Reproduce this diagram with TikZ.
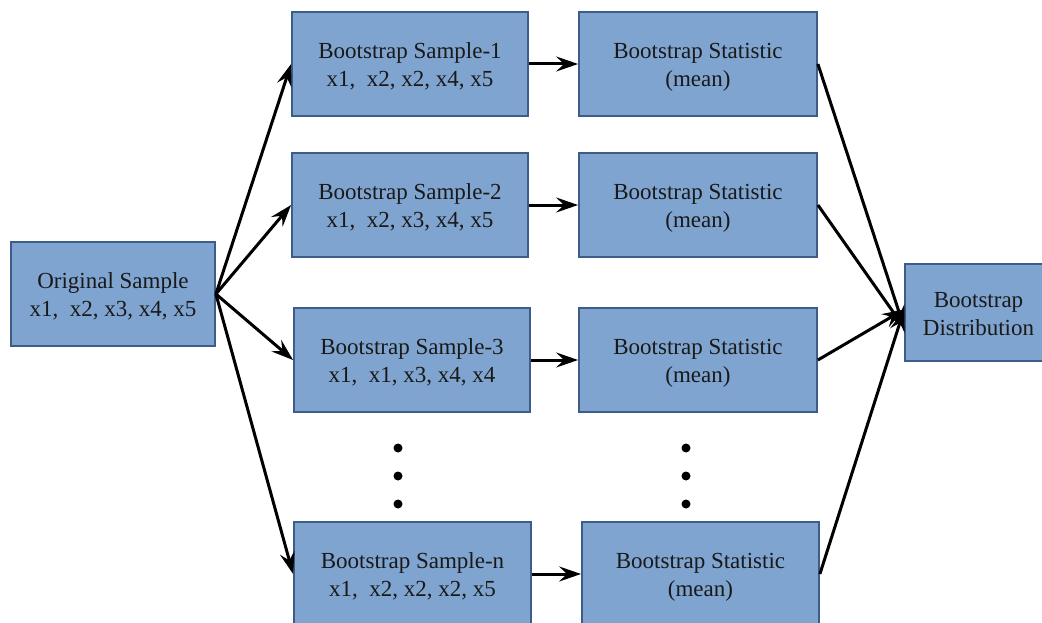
\documentclass[tikz,border=0pt]{standalone}
\usepackage{fontspec}
\setmainfont{Liberation Serif}
\usetikzlibrary{arrows.meta}
\definecolor{boxfill}{RGB}{127,164,207}
\definecolor{boxline}{RGB}{62,92,138}
\newcommand{\twolines}[2]{\raisebox{5.5pt}[0pt][0pt]{\begin{tabular}[t]{@{}c@{}}#1\\#2\end{tabular}}}
\begin{document}
\begin{tikzpicture}[x=1pt,y=-1pt,
  box/.style={draw=boxline,fill=boxfill,line width=1.8pt,align=center,
    inner sep=0pt,font=\fontsize{23}{28}\selectfont,text=black!90},
  arr/.style={line width=3pt,-{Stealth[length=22pt,width=15pt,inset=8pt]}},
  dot/.style={circle,fill=black,inner sep=0pt,minimum size=9pt}]
\useasboundingbox (0,0) rectangle (1042,623);
\clip (0,0) rectangle (1042,623);
\node[box,minimum width=204pt,minimum height=104pt] (orig) at (113,294) {\twolines{Original Sample}{x1,\ \ x2, x3, x4, x5}};
\node[box,minimum width=236pt,minimum height=104pt] (s1) at (410,64) {\twolines{Bootstrap Sample-1}{x1,\ \ x2, x2, x4, x5}};
\node[box,minimum width=238pt,minimum height=104pt] (t1) at (698,64) {\twolines{Bootstrap Statistic}{(mean)}};
\node[box,minimum width=236pt,minimum height=104pt] (s2) at (410,205) {\twolines{Bootstrap Sample-2}{x1,\ \ x2, x3, x4, x5}};
\node[box,minimum width=238pt,minimum height=104pt] (t2) at (698,205) {\twolines{Bootstrap Statistic}{(mean)}};
\node[box,minimum width=236pt,minimum height=104pt] (s3) at (412,360) {\twolines{Bootstrap Sample-3}{x1,\ \ x1, x3, x4, x4}};
\node[box,minimum width=238pt,minimum height=104pt] (t3) at (698,360) {\twolines{Bootstrap Statistic}{(mean)}};
\node[box,minimum width=237pt,minimum height=104pt] (sn) at (412.5,574) {\twolines{Bootstrap Sample-n}{x1,\ \ x2, x2, x2, x5}};
\node[box,minimum width=237pt,minimum height=104pt] (tn) at (700.5,574) {\twolines{Bootstrap Statistic}{(mean)}};
\node[box,minimum width=147pt,minimum height=97pt] (dist) at (978.5,312.5) {\twolines{Bootstrap}{Distribution}};
\node[dot] (d1) at (398,448) {};
\node[dot] (d2) at (398,476) {};
\node[dot] (d3) at (398,504) {};
\node[dot] (e1) at (686,448) {};
\node[dot] (e2) at (686,476) {};
\node[dot] (e3) at (686,504) {};
\coordinate (din1) at ([yshift=-15pt]dist.west);
\coordinate (din2) at ([yshift=3pt]dist.west);
\draw[arr] (orig.east) -- (s1.west);
\draw[arr] (orig.east) -- (s2.west);
\draw[arr] (orig.east) -- (s3.west);
\draw[arr] (orig.east) -- (sn.west);
\draw[arr] (s1.east) -- (t1.west);
\draw[arr] (s2.east) -- (t2.west);
\draw[arr] (s3.east) -- (t3.west);
\draw[arr] (sn.east) -- (tn.west);
\draw[arr] (t1.east) -- (din1);
\draw[arr] (t2.east) -- (din1);
\draw[arr] (t3.east) -- (din2);
\draw[arr] (tn.east) -- (din2);
\end{tikzpicture}
\end{document}
